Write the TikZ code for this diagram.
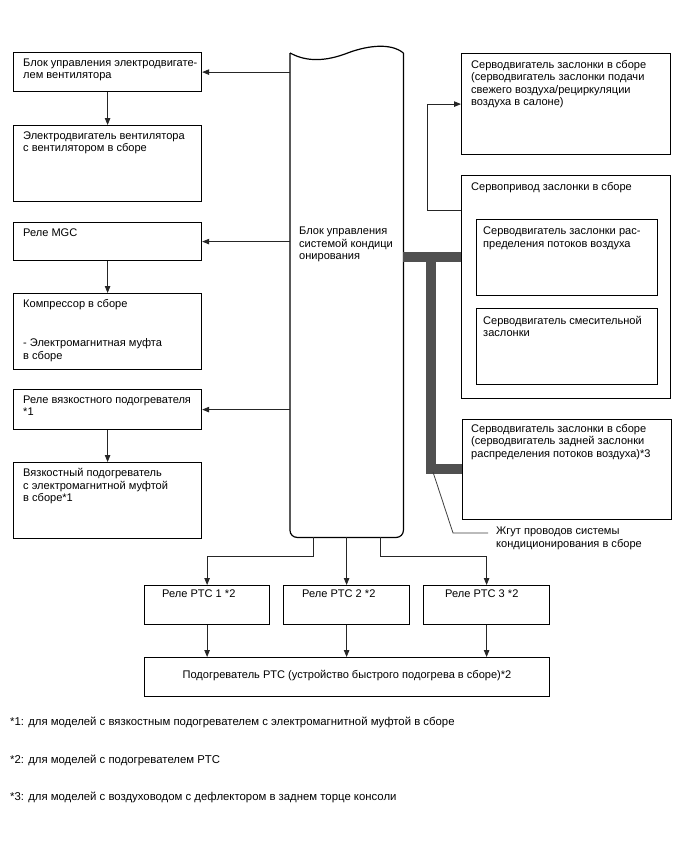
\documentclass[tikz,border=0pt]{standalone}
\usepackage{fontspec}
\setmainfont{Liberation Sans}
\usetikzlibrary{arrows.meta}
\definecolor{harn}{HTML}{505050}
\begin{document}
\begin{tikzpicture}[x=1bp,y=-1bp,
  box/.style={draw=black, line width=1.2bp, inner sep=0pt, anchor=north west},
  txt/.style={inner sep=0pt, anchor=north west, align=left, font=\fontsize{11.1}{12.5}\selectfont},
  foot/.style={inner sep=0pt, anchor=base west, font=\fontsize{11.4}{13}\selectfont},
  arr/.style={draw=black!85, line width=0.8bp, -{Triangle[length=7bp,width=5.5bp]}},
  harness/.style={draw=harn, line width=9.5bp, line cap=butt, line join=miter},
  leader/.style={draw=black!75, line width=0.8bp}]
\useasboundingbox[fill=white] (0,0) rectangle (688,852);

% left column
\node[box, minimum width=188bp, minimum height=39bp] (b1) at (13,52) {};
\node[box, minimum width=188bp, minimum height=76bp] (b2) at (13,125) {};
\node[box, minimum width=188bp, minimum height=38bp] (b3) at (13,222) {};
\node[box, minimum width=188bp, minimum height=76bp] (b4) at (13,293) {};
\node[box, minimum width=188bp, minimum height=40bp] (b5) at (13,389) {};
\node[box, minimum width=188bp, minimum height=76bp] (b6) at (13,462) {};
\node[txt] (t1) at ([shift={(10bp,-6.5bp)}]b1.north west) {Блок управления электродвигате-\\лем вентилятора};
\node[txt] (t2) at ([shift={(10bp,-6.5bp)}]b2.north west) {Электродвигатель вентилятора\\с вентилятором в сборе};
\node[txt] (t3) at ([shift={(10bp,-6.5bp)}]b3.north west) {Реле MGC};
\node[txt] (t4) at ([shift={(10bp,-6.5bp)}]b4.north west) {Компрессор в сборе\\[26.5bp]- Электромагнитная муфта\\в сборе};
\node[txt] (t5) at ([shift={(10bp,-6.5bp)}]b5.north west) {Реле вязкостного подогревателя\\*1};
\node[txt] (t6) at ([shift={(10bp,-6.5bp)}]b6.north west) {Вязкостный подогреватель\\с электромагнитной муфтой\\в сборе*1};

% central block
\node[inner sep=0pt, minimum width=113bp, minimum height=484bp, anchor=north west] (ecu) at (290,53) {};
\draw[line width=1.2bp] (ecu.north west) .. controls (303,60) and (320,63) .. (345,54) .. controls (365,46) and (390,42) .. (ecu.north east);
\draw[line width=1.2bp, rounded corners=7bp] (ecu.north east) -- (ecu.south east) -- (ecu.south west) -- (ecu.north west);
\node[txt] (tecu) at (299,227) {Блок управления\\системой кондици\\онирования};

% right column
\node[box, minimum width=209bp, minimum height=101bp] (bA) at (461,53) {};
\node[box, minimum width=209bp, minimum height=223bp] (bB) at (461,175) {};
\node[box, minimum width=181bp, minimum height=76bp] (bB1) at (476,219) {};
\node[box, minimum width=181bp, minimum height=76bp] (bB2) at (476,308) {};
\node[box, minimum width=209bp, minimum height=100bp] (bC) at (462,419) {};
\node[txt] (tA) at ([shift={(10bp,-7bp)}]bA.north west) {Серводвигатель заслонки в сборе\\(серводвигатель заслонки подачи\\свежего воздуха/рециркуляции\\воздуха в салоне)};
\node[txt] (tB) at ([shift={(10bp,-7bp)}]bB.north west) {Сервопривод заслонки в сборе};
\node[txt] (tB1) at ([shift={(7bp,-8bp)}]bB1.north west) {Серводвигатель заслонки рас-\\пределения потоков воздуха};
\node[txt] (tB2) at ([shift={(7bp,-8bp)}]bB2.north west) {Серводвигатель смесительной\\заслонки};
\node[txt] (tC) at ([shift={(9bp,-5bp)}]bC.north west) {Серводвигатель заслонки в сборе\\(серводвигатель задней заслонки\\распределения потоков воздуха)*3};

% bottom relays and heater
\node[box, minimum width=125bp, minimum height=39bp] (r1) at (144,585) {};
\node[box, minimum width=126bp, minimum height=39bp] (r2) at (283,585) {};
\node[box, minimum width=126bp, minimum height=39bp] (r3) at (423,585) {};
\node[box, minimum width=405bp, minimum height=39bp] (heat) at (144,657) {};
\node[txt] (tr1) at ([shift={(18bp,-5bp)}]r1.north west) {Реле PTC 1 *2};
\node[txt] (tr2) at ([shift={(19bp,-5bp)}]r2.north west) {Реле PTC 2 *2};
\node[txt] (tr3) at ([shift={(22bp,-5bp)}]r3.north west) {Реле PTC 3 *2};
\node[txt, anchor=base] (theat) at (347,678) {Подогреватель PTC (устройство быстрого подогрева в сборе)*2};

% harness
\coordinate (hj) at (431,257);
\coordinate (hc) at (431,469);
\draw[harness] (ecu.east |- hj) -- (bB.west |- hj);
\draw[harness] (hj) -- (hc) -- (hc -| bC.west);
\coordinate (lp) at (433,472);
\coordinate (lk) at (453,533);
\coordinate (le) at (488,533);
\draw[leader] (lp) -- (lk) -- (le);
\node[txt] (tl) at (496,527) {Жгут проводов системы\\кондиционирования в сборе};

% connectors
\draw[arr] (ecu.west |- b1.east) -- (b1.east);
\draw[arr] (ecu.west |- b3.east) -- (b3.east);
\draw[arr] (ecu.west |- b5.east) -- (b5.east);
\draw[arr] (b1.south) -- (b2.north);
\draw[arr] (b3.south) -- (b4.north);
\draw[arr] (b5.south) -- (b6.north);
\draw[arr] ([yshift=-35bp]bB.north west) -- ++(-34,0) |- (bA.west);
\draw[arr] ([xshift=23bp]ecu.south west) -- ++(0,19) -| (r1.north);
\draw[arr] (ecu.south -| r2.north) -- (r2.north);
\draw[arr] ([xshift=-23bp]ecu.south east) -- ++(0,19) -| (r3.north);
\draw[arr] (r1.south) -- (r1.south |- heat.north);
\draw[arr] (r2.south) -- (r2.south |- heat.north);
\draw[arr] (r3.south) -- (r3.south |- heat.north);

% footnotes
\node[foot] (f1) at (10,725) {*1: для моделей с вязкостным подогревателем с электромагнитной муфтой в сборе};
\node[foot] (f2) at (10,763) {*2: для моделей с подогревателем PTC};
\node[foot] (f3) at (10,800) {*3: для моделей с воздуховодом с дефлектором в заднем торце консоли};
\end{tikzpicture}
\end{document}
